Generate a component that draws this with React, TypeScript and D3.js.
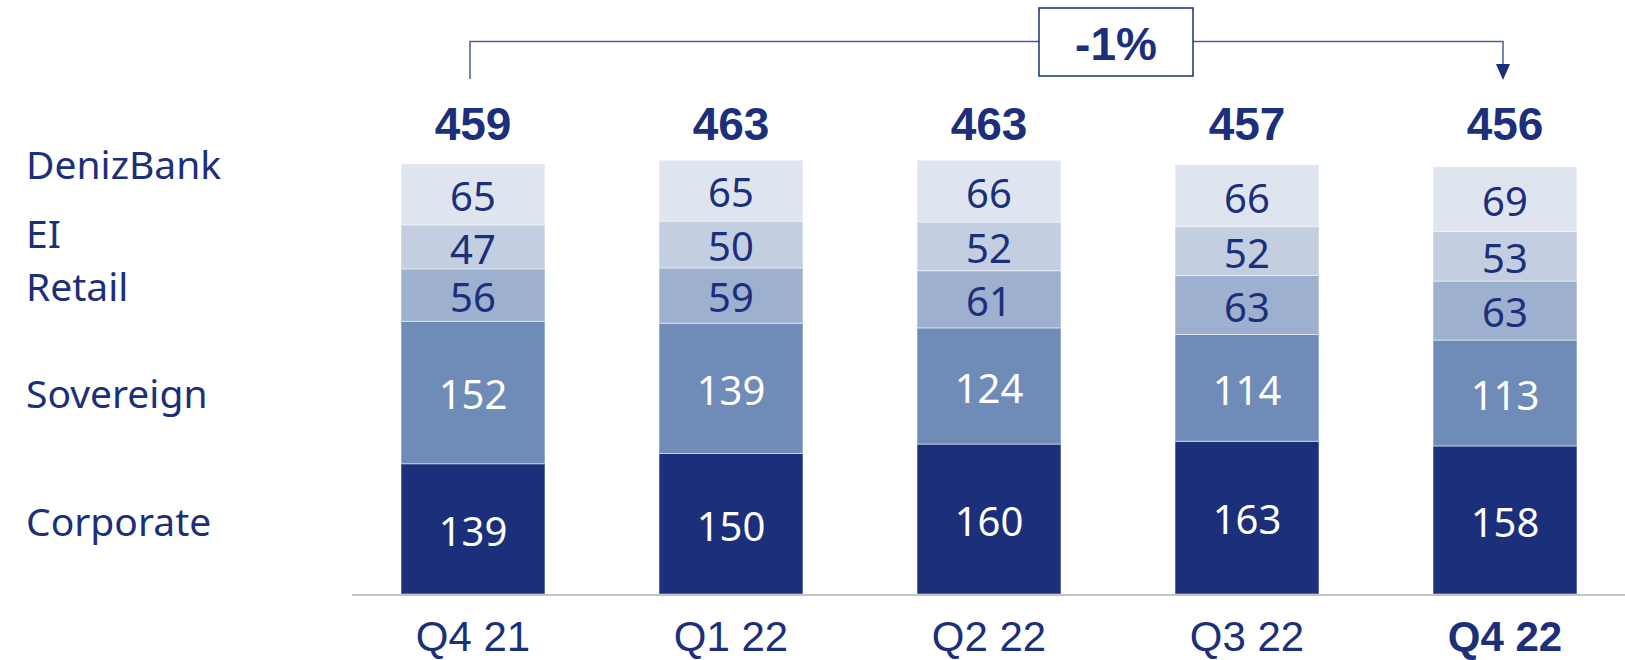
import React, { useEffect, useRef } from 'react';
import * as d3 from 'd3';

const categories = ['Q4 21', 'Q1 22', 'Q2 22', 'Q3 22', 'Q4 22'];
const corporate = [139, 150, 160, 163, 158];
const sovereign = [152, 139, 124, 114, 113];
const retail = [56, 59, 61, 63, 63];
const ei = [47, 50, 52, 52, 53];
const denizBank = [65, 65, 66, 66, 69];
const totals = [459, 463, 463, 457, 456];
const seriesNames = ['Corporate', 'Sovereign', 'Retail', 'EI', 'DenizBank'];
const changeLabel = '-1%';

const NAVY = '#1b2f7a';
const colors = ['#1b2f7a', '#6e8cb7', '#9db0cf', '#c3cee1', '#dfe5ef'];
const labelColors = ['#fff', '#fff', NAVY, NAVY, NAVY];

const App = () => {
  const ref = useRef<SVGSVGElement>(null);

  useEffect(() => {
    const svg = d3.select(ref.current);
    svg.selectAll('*').remove();

    const width = 1625;
    const height = 660;
    const baseY = 594;

    const rows = categories.map((c, i) => ({
      cat: c,
      Corporate: corporate[i],
      Sovereign: sovereign[i],
      Retail: retail[i],
      EI: ei[i],
      DenizBank: denizBank[i],
    }));

    const x = d3.scaleBand()
      .domain(categories)
      .range([344, 1634])
      .paddingInner(0.442)
      .paddingOuter(0.221);

    const y = d3.scaleLinear()
      .domain([0, 500])
      .range([baseY, baseY - 468.5]);

    const stacked = d3.stack<any>().keys(seriesNames)(rows);

    const layers = svg.append('g')
      .selectAll('g')
      .data(stacked)
      .join('g')
      .attr('fill', (_, i) => colors[i]);

    layers.selectAll('rect')
      .data(d => d)
      .join('rect')
      .attr('x', d => x(d.data.cat)!)
      .attr('width', x.bandwidth())
      .attr('y', d => y(d[1]))
      .attr('height', d => y(d[0]) - y(d[1]))
      .attr('stroke', '#ffffff')
      .attr('stroke-opacity', 0.5)
      .attr('stroke-width', 1);

    // segment values
    stacked.forEach((layer, li) => {
      svg.append('g')
        .selectAll('text')
        .data(layer)
        .join('text')
        .attr('x', d => x(d.data.cat)! + x.bandwidth() / 2)
        .attr('y', d => (y(d[0]) + y(d[1])) / 2)
        .attr('dy', '0.42em')
        .attr('text-anchor', 'middle')
        .attr('font-family', '"Noto Sans", sans-serif')
        .attr('font-size', 40)
        .attr('fill', labelColors[li])
        .text(d => d.data[layer.key]);
    });

    // totals
    svg.append('g')
      .selectAll('text')
      .data(totals)
      .join('text')
      .attr('x', (_, i) => x(categories[i])! + x.bandwidth() / 2)
      .attr('y', 140)
      .attr('text-anchor', 'middle')
      .attr('font-family', '"Liberation Sans", Arial, sans-serif')
      .attr('font-weight', 'bold')
      .attr('font-size', 46)
      .attr('fill', NAVY)
      .text(d => d);

    // baseline axis
    svg.append('line')
      .attr('x1', 352)
      .attr('x2', width)
      .attr('y1', baseY + 1)
      .attr('y2', baseY + 1)
      .attr('stroke', '#c4c4c4')
      .attr('stroke-width', 2);

    svg.append('g')
      .selectAll('text')
      .data(categories)
      .join('text')
      .attr('x', d => x(d)! + x.bandwidth() / 2)
      .attr('y', 651)
      .attr('text-anchor', 'middle')
      .attr('font-family', '"Liberation Sans", Arial, sans-serif')
      .attr('font-weight', (_, i) => (i === categories.length - 1 ? 'bold' : 'normal'))
      .attr('font-size', 42)
      .attr('fill', NAVY)
      .text(d => d);

    // legend on the left
    const legendY = [536, 408, 301, 248, 179];
    svg.append('g')
      .selectAll('text')
      .data(seriesNames)
      .join('text')
      .attr('x', 26)
      .attr('y', (_, i) => legendY[i])
      .attr('font-family', '"Noto Sans", sans-serif')
      .attr('font-size', 39)
      .attr('fill', NAVY)
      .text(d => d);

    // change bracket
    const xl = x(categories[0])! + x.bandwidth() / 2 - 3;
    const xr = x(categories[categories.length - 1])! + x.bandwidth() / 2 - 2;
    const by = 41.5;
    svg.append('path')
      .attr('d', `M${xl},79V${by}H${xr}V68`)
      .attr('fill', 'none')
      .attr('stroke', '#4b5c9c')
      .attr('stroke-width', 1.5);
    svg.append('path')
      .attr('d', `M${xr - 7},64L${xr + 7},64L${xr},80Z`)
      .attr('fill', NAVY);

    svg.append('rect')
      .attr('x', 1039)
      .attr('y', 8)
      .attr('width', 154)
      .attr('height', 68)
      .attr('fill', '#fff')
      .attr('stroke', NAVY)
      .attr('stroke-width', 1.5);
    svg.append('text')
      .attr('x', 1116)
      .attr('y', 60)
      .attr('text-anchor', 'middle')
      .attr('font-family', '"Liberation Sans", Arial, sans-serif')
      .attr('font-weight', 'bold')
      .attr('font-size', 46)
      .attr('fill', NAVY)
      .text(changeLabel);

    svg.attr('width', width).attr('height', height);
  }, []);

  return (
    <svg
      ref={ref}
      width={1625}
      height={660}
      style={{ position: 'absolute', left: 0, top: 0, background: '#fff' }}
    ></svg>
  );
};

export default App;
